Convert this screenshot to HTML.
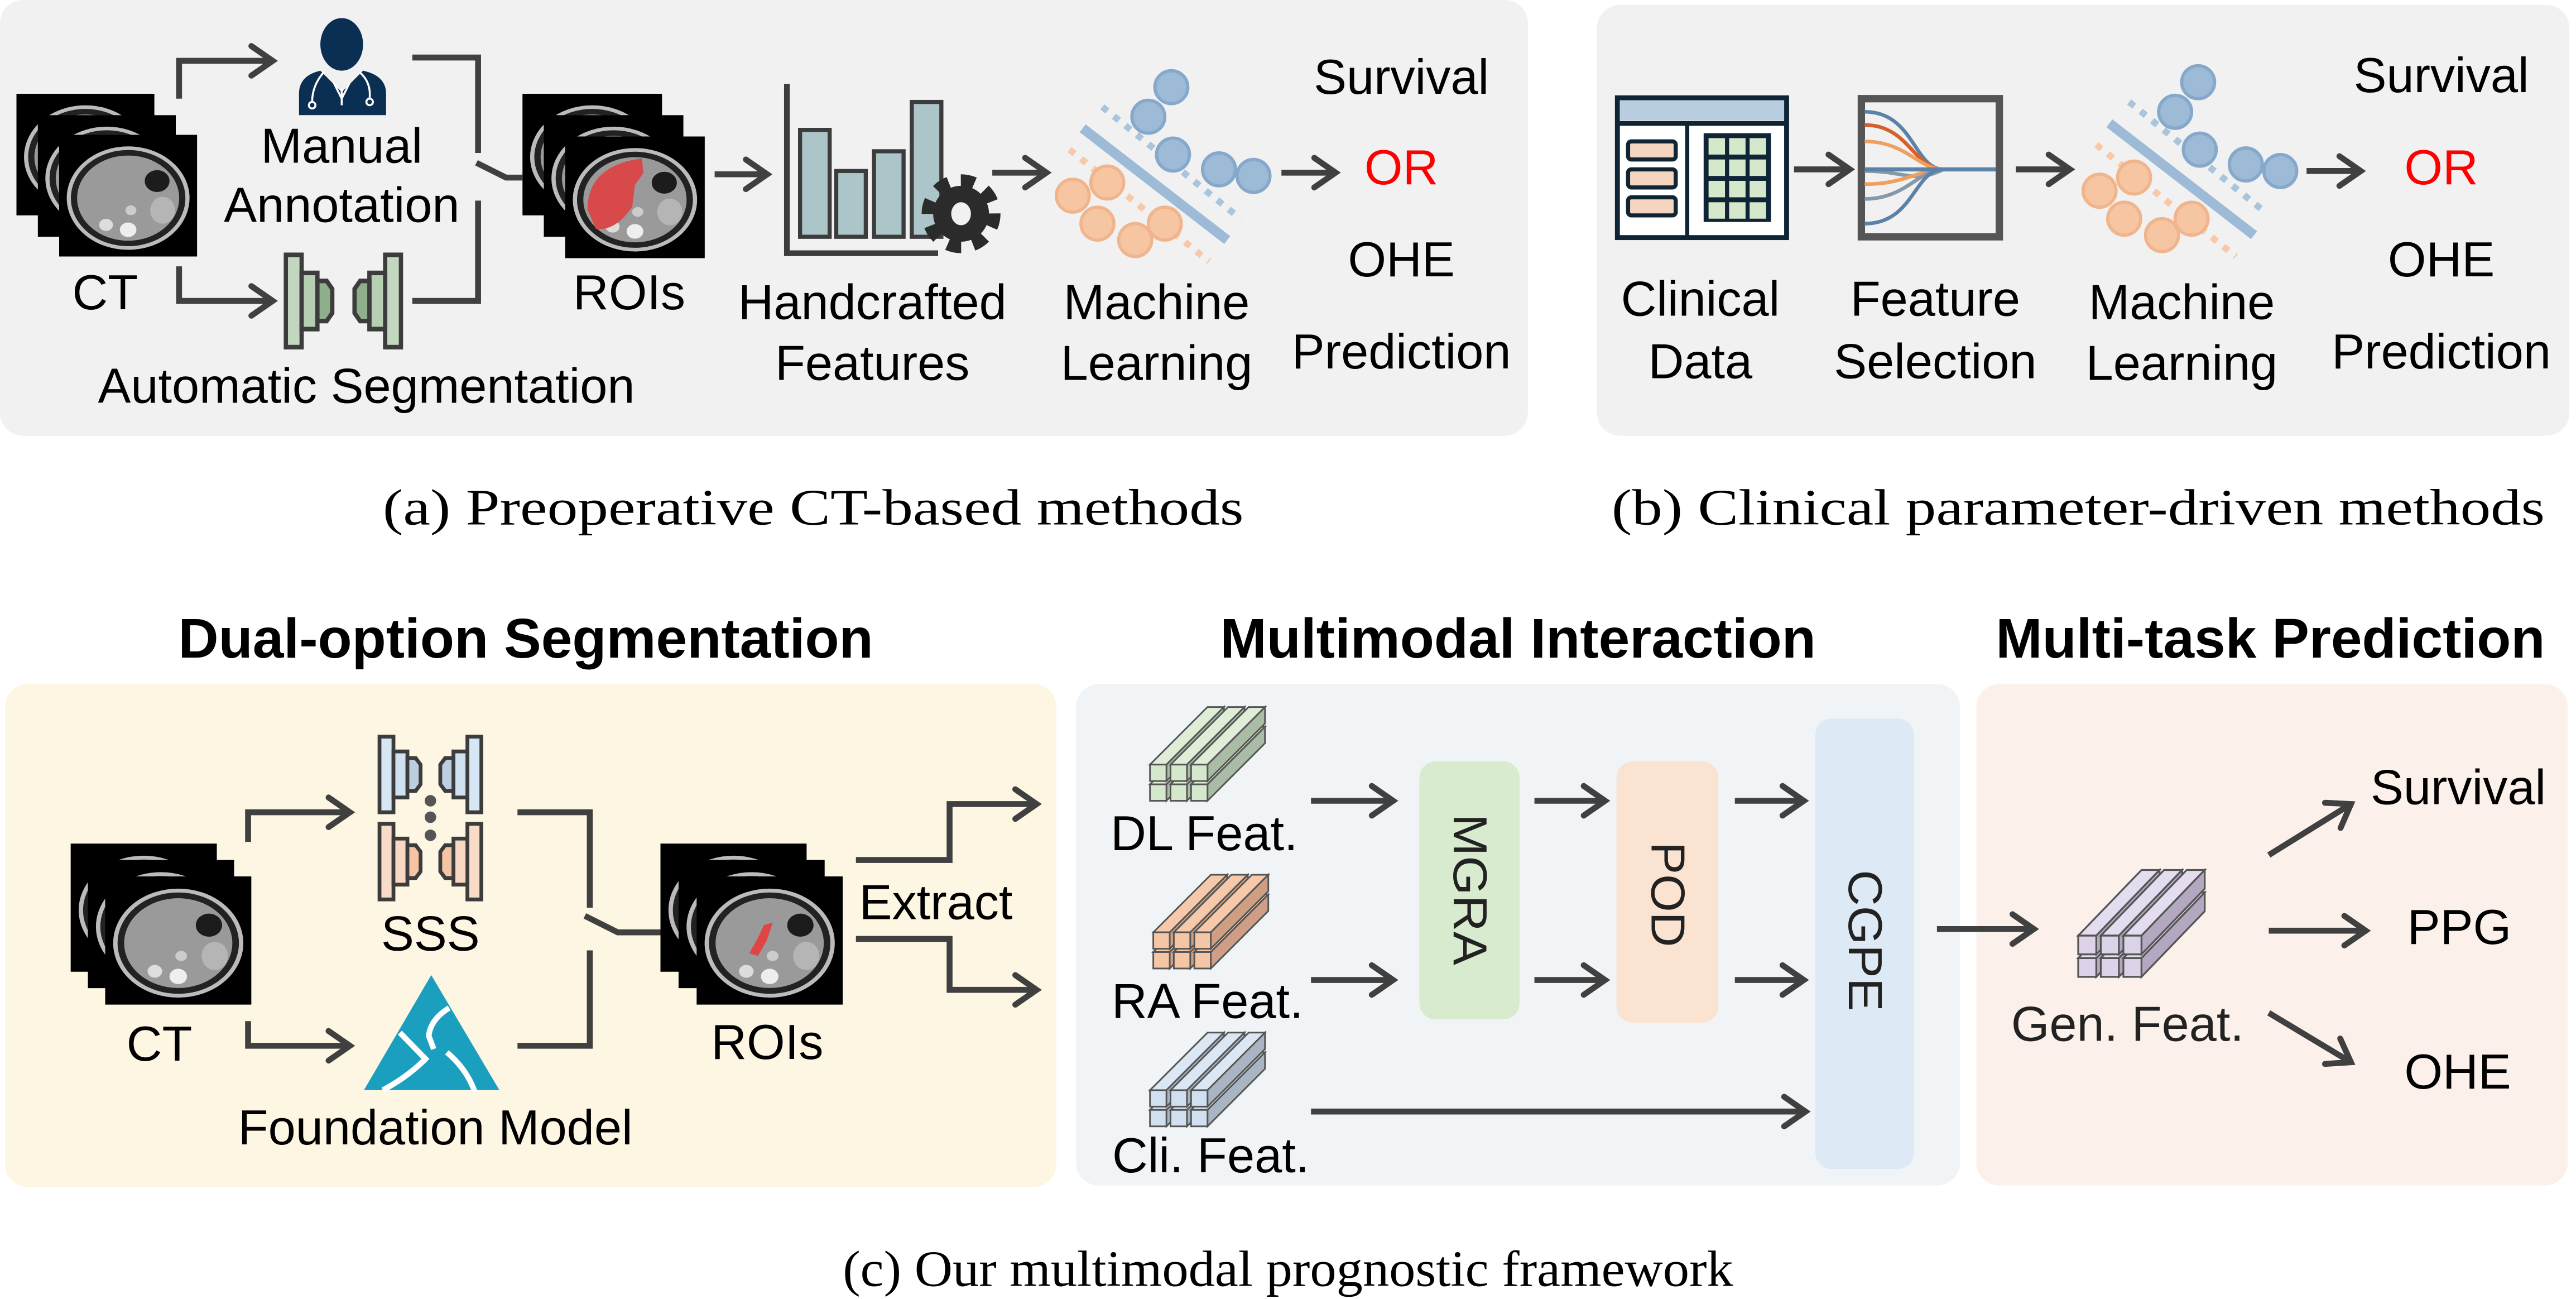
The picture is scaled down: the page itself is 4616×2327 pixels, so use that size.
<!DOCTYPE html>
<html><head><meta charset="utf-8">
<style>
html,body{margin:0;padding:0;background:#fff;}
svg{display:block;}
text{font-family:"Liberation Sans",Arial,sans-serif;fill:#000;}
.cap{font-family:"Liberation Serif","Times New Roman",serif;font-size:31px;}
.lbl{font-size:30px;}
.hd{font-size:34px;font-weight:bold;}
.ln{fill:none;stroke:#404040;stroke-width:3.6;}
.ic{stroke:#3c3c3c;stroke-width:2.3;stroke-linejoin:miter;}
.bar polygon,.bar rect{stroke:#555;stroke-width:1;}
.bar .t{fill:var(--t);} .bar .s{fill:var(--s);} .bar .f{fill:var(--f);}
</style></head>
<body>
<svg width="4616" height="2327" viewBox="0 0 1568 790" preserveAspectRatio="none" xmlns="http://www.w3.org/2000/svg">
<defs>
<marker id="ah" markerUnits="userSpaceOnUse" markerWidth="40" markerHeight="40" refX="0" refY="0" orient="auto" overflow="visible">
<path d="M-13,-9 L0,0 L-13,9" fill="none" stroke="#404040" stroke-width="3.6" stroke-linecap="round" stroke-linejoin="miter"/>
</marker>
<symbol id="ct" viewBox="0 0 100 100" preserveAspectRatio="none">
<rect x="0" y="0" width="100" height="100" fill="#000"/>
<ellipse cx="50" cy="52" rx="43" ry="41" fill="#222" stroke="#bbb" stroke-width="3"/>
<ellipse cx="50" cy="52" rx="37" ry="35" fill="#9a9a9a"/>
<ellipse cx="71" cy="38" rx="9" ry="9" fill="#1c1c1c"/>
<ellipse cx="75" cy="62" rx="9" ry="11" fill="#b5b5b5"/>
<circle cx="50" cy="78" r="6" fill="#eee"/>
<circle cx="34" cy="74" r="5" fill="#ddd"/>
<circle cx="52" cy="62" r="4" fill="#ccc"/>
</symbol>
<symbol id="roi" viewBox="0 0 100 100" preserveAspectRatio="none">
<use href="#ct" width="100" height="100"/>
<path d="M16,60 Q16,24 55,18 L56,30 L50,40 L48,58 Q36,78 22,76 Z" fill="#d84a4a"/>
</symbol>
<symbol id="roi2" viewBox="0 0 100 100" preserveAspectRatio="none">
<use href="#ct" width="100" height="100"/>
<path d="M46,38 L52,36 L48,50 L42,62 L36,60 L42,48 Z" fill="#e04444"/>
</symbol>
<g id="seg">
<rect class="ic" x="0" y="0" width="8.5" height="46" fill="var(--a)"/>
<rect class="ic" x="8.5" y="9" width="8.5" height="28" fill="var(--b)"/>
<polygon class="ic" points="17,13 22,13 25,17 25,29 22,33 17,33" fill="var(--c)"/>
<rect class="ic" x="53.5" y="0" width="8.5" height="46" fill="var(--a)"/>
<rect class="ic" x="45" y="9" width="8.5" height="28" fill="var(--b)"/>
<polygon class="ic" points="45,13 40,13 37,17 37,29 40,33 45,33" fill="var(--c)"/>
</g>
<g id="cube" class="bar">
<polygon class="t" points="0,12 10,12 45,-23 35,-23"/><polygon class="s" points="10,12 45,-23 45,-13 10,22"/><rect class="f" x="0" y="12" width="10" height="10"/>
<polygon class="t" points="12.5,12 22.5,12 57.5,-23 47.5,-23"/><polygon class="s" points="22.5,12 57.5,-23 57.5,-13 22.5,22"/><rect class="f" x="12.5" y="12" width="10" height="10"/>
<polygon class="t" points="25,12 35,12 70,-23 60,-23"/><polygon class="s" points="35,12 70,-23 70,-13 35,22"/><rect class="f" x="25" y="12" width="10" height="10"/>
<polygon class="t" points="0,0 10,0 45,-35 35,-35"/><polygon class="s" points="10,0 45,-35 45,-25 10,10"/><rect class="f" x="0" y="0" width="10" height="10"/>
<polygon class="t" points="12.5,0 22.5,0 57.5,-35 47.5,-35"/><polygon class="s" points="22.5,0 57.5,-35 57.5,-25 22.5,10"/><rect class="f" x="12.5" y="0" width="10" height="10"/>
<polygon class="t" points="25,0 35,0 70,-35 60,-35"/><polygon class="s" points="35,0 70,-35 70,-25 35,10"/><rect class="f" x="25" y="0" width="10" height="10"/>
</g>
<g id="ml">
<line x1="671" y1="65" x2="755" y2="133" stroke="#a9c5de" stroke-width="4" stroke-dasharray="4,5"/>
<line x1="651" y1="91" x2="736" y2="159" stroke="#f7c9a8" stroke-width="4" stroke-dasharray="4,5"/>
<line x1="659" y1="78" x2="747" y2="146" stroke="#9dbad6" stroke-width="6"/>
<g fill="#9dbad6" stroke="#86a9cb" stroke-width="2">
<circle cx="713" cy="53" r="10"/><circle cx="699" cy="71" r="10"/><circle cx="714" cy="94" r="10"/><circle cx="742" cy="103" r="10"/><circle cx="763" cy="107" r="10"/>
</g>
<g fill="#f6c6a2" stroke="#f1b58d" stroke-width="2">
<circle cx="674" cy="111" r="10"/><circle cx="653" cy="119" r="10"/><circle cx="668" cy="136" r="10"/><circle cx="691" cy="146" r="10"/><circle cx="709" cy="136" r="10"/>
</g>
</g>
</defs>

<rect x="0" y="0" width="930" height="265" rx="14" fill="#f1f1f1"/>
<rect x="972" y="3" width="592" height="262" rx="14" fill="#f1f1f1"/>
<rect x="3" y="416" width="640" height="306" rx="14" fill="#fdf6e3"/>
<rect x="655" y="416" width="538" height="305" rx="14" fill="#f0f4f6"/>
<rect x="1203" y="416" width="360" height="305" rx="14" fill="#fbf1ea"/>

<use href="#ct" x="10" y="57" width="84" height="74"/>
<use href="#ct" x="23" y="70" width="84" height="74"/>
<use href="#ct" x="36" y="82" width="84" height="74"/>
<text class="lbl" x="64" y="188" text-anchor="middle">CT</text>
<path class="ln" d="M109,60 V37 H166" marker-end="url(#ah)"/>
<path class="ln" d="M109,162 V183 H166" marker-end="url(#ah)"/>
<g fill="#0b2f52">
<ellipse cx="208" cy="27" rx="13" ry="16"/>
<path d="M182,70 V57 Q182,46 195,43 L208,56 L221,43 Q235,46 235,57 V70 Z"/>
</g>
<g fill="none" stroke="#fff" stroke-width="1.2">
<path d="M197,44 Q190,52 190,62"/><circle cx="190" cy="64" r="2"/>
<path d="M219,44 Q226,50 225,60"/><circle cx="225" cy="62" r="2"/>
<path d="M203,50 L208,60 L213,50"/><path d="M208,54 V64"/>
</g>
<text class="lbl" x="208" y="99" text-anchor="middle">Manual</text>
<text class="lbl" x="208" y="135" text-anchor="middle">Annotation</text>
<g transform="translate(174,155) scale(1.13,1.22)" style="--a:#c3d7c0;--b:#b6ceb2;--c:#8fae8c">
<use href="#seg"/>
</g>
<text class="lbl" x="223" y="245" text-anchor="middle">Automatic Segmentation</text>
<path class="ln" d="M251,35 H291 V93"/>
<path class="ln" d="M290,99 L308,108 H318"/>
<path class="ln" d="M251,183 H291 V122"/>
<use href="#roi" x="318" y="57" width="85" height="74"/>
<use href="#roi" x="331" y="70" width="85" height="74"/>
<use href="#roi" x="344" y="83" width="85" height="74"/>
<text class="lbl" x="383" y="188" text-anchor="middle">ROIs</text>
<path class="ln" d="M435,106 H467" marker-end="url(#ah)"/>
<path d="M479,51 V154 H571" fill="none" stroke="#3c3c3c" stroke-width="3.5"/>
<g fill="#acc5c8" stroke="#3c3c3c" stroke-width="2.5">
<rect x="487" y="79" width="18" height="65"/>
<rect x="509" y="104" width="18" height="40"/>
<rect x="532" y="92" width="18" height="52"/>
<rect x="555" y="62" width="18" height="82"/>
</g>
<g transform="translate(585,130)">
<circle r="18" fill="none" stroke="#2b2b2b" stroke-width="12" stroke-dasharray="7.5,6.6"/>
<circle r="17" fill="#2b2b2b"/>
<ellipse rx="6" ry="7" fill="#f1f1f1"/>
</g>
<text class="lbl" x="531" y="194" text-anchor="middle">Handcrafted</text>
<text class="lbl" x="531" y="231" text-anchor="middle">Features</text>
<path class="ln" d="M604,105 H637" marker-end="url(#ah)"/>
<use href="#ml"/>
<text class="lbl" x="704" y="194" text-anchor="middle">Machine</text>
<text class="lbl" x="704" y="231" text-anchor="middle">Learning</text>
<path class="ln" d="M780,105 H813" marker-end="url(#ah)"/>
<text class="lbl" x="853" y="57" text-anchor="middle">Survival</text>
<text class="lbl" x="853" y="112" text-anchor="middle" style="fill:#f00">OR</text>
<text class="lbl" x="853" y="168" text-anchor="middle">OHE</text>
<text class="lbl" x="853" y="224" text-anchor="middle">Prediction</text>

<rect x="984.5" y="59.5" width="103" height="85" fill="#fff" stroke="#0f2535" stroke-width="3"/>
<rect x="986" y="61" width="100" height="12" fill="#b8cde0"/>
<line x1="984.5" y1="75" x2="1087.5" y2="75" stroke="#0f2535" stroke-width="3"/>
<line x1="1027" y1="75" x2="1027" y2="144" stroke="#0f2535" stroke-width="2.5"/>
<g fill="#f6d5c0" stroke="#0f2535" stroke-width="2.5">
<rect x="991" y="86" width="29" height="11" rx="2"/>
<rect x="991" y="103" width="29" height="11" rx="2"/>
<rect x="991" y="120" width="29" height="11" rx="2"/>
</g>
<rect x="1037" y="81" width="41" height="54" fill="#0f2535"/>
<g fill="#d5e8cc">
<rect x="1040" y="84" width="10" height="10"/><rect x="1052.5" y="84" width="10" height="10"/><rect x="1065" y="84" width="10" height="10"/>
<rect x="1040" y="97" width="10" height="10"/><rect x="1052.5" y="97" width="10" height="10"/><rect x="1065" y="97" width="10" height="10"/>
<rect x="1040" y="110" width="10" height="10"/><rect x="1052.5" y="110" width="10" height="10"/><rect x="1065" y="110" width="10" height="10"/>
<rect x="1040" y="123" width="10" height="10"/><rect x="1052.5" y="123" width="10" height="10"/><rect x="1065" y="123" width="10" height="10"/>
</g>
<path class="ln" d="M1092,103 H1126" marker-end="url(#ah)"/>
<rect x="1133" y="60" width="84" height="84" fill="#f1f1f1" stroke="#555" stroke-width="4.5"/>
<g fill="none" stroke-width="2.2">
<path d="M1135,68 C1165,68 1165,103 1183,103" stroke="#5b82a8"/>
<path d="M1135,76 C1162,76 1165,103 1183,103" stroke="#d6602a"/>
<path d="M1135,86 C1160,86 1168,103 1183,103" stroke="#efa060"/>
<path d="M1135,104 C1160,104 1165,112 1183,103" stroke="#8898a8"/>
<path d="M1135,112 C1160,112 1168,103 1183,103" stroke="#efa060"/>
<path d="M1135,121 C1160,121 1168,103 1183,103" stroke="#8898a8"/>
<path d="M1135,136 C1165,136 1165,103 1183,103" stroke="#5b82a8"/>
<path d="M1135,103 H1215" stroke="#5b82a8" stroke-width="2.5"/>
</g>
<path class="ln" d="M1227,103 H1260" marker-end="url(#ah)"/>
<g transform="translate(625,-3)"><use href="#ml"/></g>
<path class="ln" d="M1404,104 H1437" marker-end="url(#ah)"/>
<text class="lbl" x="1035" y="192" text-anchor="middle">Clinical</text>
<text class="lbl" x="1035" y="230" text-anchor="middle">Data</text>
<text class="lbl" x="1178" y="192" text-anchor="middle">Feature</text>
<text class="lbl" x="1178" y="230" text-anchor="middle">Selection</text>
<text class="lbl" x="1328" y="194" text-anchor="middle">Machine</text>
<text class="lbl" x="1328" y="231" text-anchor="middle">Learning</text>
<text class="lbl" x="1486" y="56" text-anchor="middle">Survival</text>
<text class="lbl" x="1486" y="112" text-anchor="middle" style="fill:#f00">OR</text>
<text class="lbl" x="1486" y="168" text-anchor="middle">OHE</text>
<text class="lbl" x="1486" y="224" text-anchor="middle">Prediction</text>

<text class="cap" x="233" y="319" textLength="524" lengthAdjust="spacingAndGlyphs">(a) Preoperative CT-based methods</text>
<text class="cap" x="981" y="319" textLength="568" lengthAdjust="spacingAndGlyphs">(b) Clinical parameter-driven methods</text>

<text class="hd" x="320" y="400" text-anchor="middle">Dual-option Segmentation</text>
<text class="hd" x="924" y="400" text-anchor="middle">Multimodal Interaction</text>
<text class="hd" x="1382" y="400" text-anchor="middle">Multi-task Prediction</text>

<use href="#ct" x="43" y="513" width="89" height="78"/>
<use href="#ct" x="53.5" y="523" width="89" height="78"/>
<use href="#ct" x="64" y="533" width="89" height="78"/>
<text class="lbl" x="97" y="645" text-anchor="middle">CT</text>
<path class="ln" d="M151,512 V494 H213" marker-end="url(#ah)"/>
<path class="ln" d="M151,621 V636 H213" marker-end="url(#ah)"/>
<g transform="translate(231,448)" style="--a:#d6e6f5;--b:#cfe0f1;--c:#bccfe1"><use href="#seg"/></g>
<g transform="translate(231,501)" style="--a:#f8dcc8;--b:#f8d8c2;--c:#f4c4a5"><use href="#seg"/></g>
<g fill="#555"><circle cx="262" cy="487" r="3.5"/><circle cx="262" cy="497" r="3.5"/><circle cx="262" cy="508" r="3.5"/></g>
<text class="lbl" x="262" y="578" text-anchor="middle">SSS</text>
<polygon points="262.5,593 221.5,663 304,663" fill="#1a9fbf"/>
<g fill="none" stroke="#fff" stroke-width="3.4">
<path d="M273.4,613 Q262,620 261,630 L264,638"/>
<path d="M243.4,628 L259,644 Q248,655 233,663"/>
<path d="M272,640 Q284,650 289,664"/>
</g>
<text class="lbl" x="265" y="696" text-anchor="middle">Foundation Model</text>
<path class="ln" d="M315,494 H359 V552"/>
<path class="ln" d="M356,557 L376,567 H403"/>
<path class="ln" d="M315,636 H359 V578"/>
<use href="#roi2" x="402" y="513" width="89" height="78"/>
<use href="#roi2" x="413" y="523" width="89" height="78"/>
<use href="#roi2" x="424" y="533" width="89" height="78"/>
<text class="lbl" x="467" y="644" text-anchor="middle">ROIs</text>
<path class="ln" d="M521,523 H578 V489 H631" marker-end="url(#ah)"/>
<path class="ln" d="M521,571 H578 V602 H631" marker-end="url(#ah)"/>
<text class="lbl" x="523" y="559">Extract</text>

<g transform="translate(700,465)" style="--f:#d6e8cc;--t:#e0eed8;--s:#a9bca6"><use href="#cube"/></g>
<g transform="translate(702,567)" style="--f:#f5c6a5;--t:#f5c9aa;--s:#cf9f85"><use href="#cube"/></g>
<g transform="translate(700,663)" style="--f:#d0e0f0;--t:#dbe7f3;--s:#a9b5c3"><use href="#cube"/></g>
<text class="lbl" x="733" y="517" text-anchor="middle">DL Feat.</text>
<text class="lbl" x="735" y="619" text-anchor="middle">RA Feat.</text>
<text class="lbl" x="737" y="713" text-anchor="middle">Cli. Feat.</text>
<path class="ln" d="M798,487 H848" marker-end="url(#ah)"/>
<path class="ln" d="M798,596 H848" marker-end="url(#ah)"/>
<path class="ln" d="M798,676 H1099" marker-end="url(#ah)"/>
<rect x="864" y="463" width="61" height="157" rx="10" fill="#d8ebcf"/>
<rect x="984" y="463" width="62" height="159" rx="10" fill="#fbe3d2"/>
<rect x="1105" y="437" width="60" height="274" rx="10" fill="#dde9f5"/>
<text x="894.5" y="541" transform="rotate(90 894.5 541)" text-anchor="middle" dominant-baseline="central" font-size="29" textLength="92" lengthAdjust="spacingAndGlyphs" style="fill:#222">MGRA</text>
<text x="1015" y="544" transform="rotate(90 1015 544)" text-anchor="middle" dominant-baseline="central" font-size="29" textLength="64" lengthAdjust="spacingAndGlyphs" style="fill:#222">POD</text>
<text x="1135" y="572" transform="rotate(90 1135 572)" text-anchor="middle" dominant-baseline="central" font-size="29" textLength="86" lengthAdjust="spacingAndGlyphs" style="fill:#222">CGPE</text>
<path class="ln" d="M934,487 H977" marker-end="url(#ah)"/>
<path class="ln" d="M934,596 H977" marker-end="url(#ah)"/>
<path class="ln" d="M1056,487 H1098" marker-end="url(#ah)"/>
<path class="ln" d="M1056,596 H1098" marker-end="url(#ah)"/>

<path class="ln" d="M1179,565 H1238" marker-end="url(#ah)"/>
<g transform="translate(1265,569) scale(1.1,1.14)" style="--f:#ddd3e8;--t:#e4dcef;--s:#b3a8c0"><use href="#cube"/></g>
<text class="lbl" x="1295" y="633" text-anchor="middle" style="fill:#222">Gen. Feat.</text>
<path class="ln" d="M1381,520 L1431,489" marker-end="url(#ah)"/>
<path class="ln" d="M1381,566 H1440" marker-end="url(#ah)"/>
<path class="ln" d="M1381,616 L1431,646" marker-end="url(#ah)"/>
<text class="lbl" x="1443" y="489">Survival</text>
<text class="lbl" x="1497" y="574" text-anchor="middle">PPG</text>
<text class="lbl" x="1496" y="662" text-anchor="middle">OHE</text>

<text class="cap" x="513" y="782" textLength="542" lengthAdjust="spacingAndGlyphs">(c) Our multimodal prognostic framework</text>
</svg>
</body></html>
